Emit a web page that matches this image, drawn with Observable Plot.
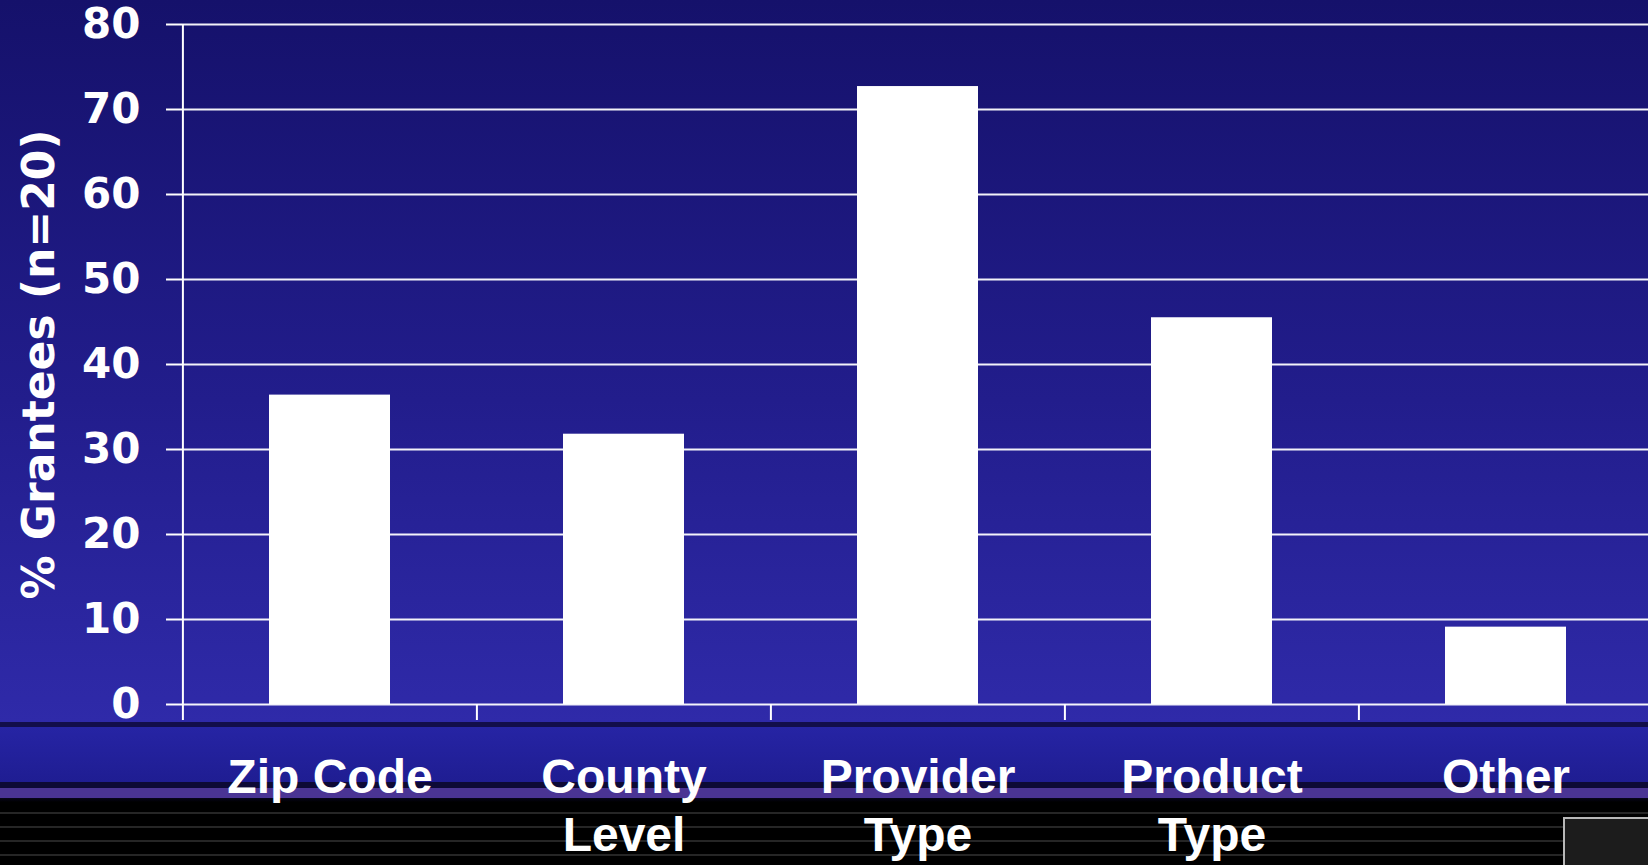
<!DOCTYPE html>
<html>
<head>
<meta charset="utf-8">
<script src="https://cdn.jsdelivr.net/npm/d3@7"></script>
<script src="https://cdn.jsdelivr.net/npm/@observablehq/plot@0.6"></script>
<style>
  html, body { margin: 0; padding: 0; background: #000; overflow: hidden; }
  #wrap {
    position: relative; width: 1648px; height: 865px; overflow: hidden;
    background: linear-gradient(to bottom,
      #15116b 0px, #221d8c 400px, #2f2aa9 722px,
      #120e4a 722px, #120e4a 727px,
      #2624a4 727px, #1f1d92 782px,
      #0d0a36 782px, #0d0a36 788px,
      #4a3494 788px, #4a3494 798px,
      #07051c 798px, #000 802px, #000 865px);
  }
  #scan {
    position: absolute; left: 0; top: 802px; width: 1648px; height: 63px;
    background: repeating-linear-gradient(to bottom, #000 0px, #000 10px, #262626 10px, #262626 12px, #000 12px, #000 14px);
  }
  #logoR {
    position: absolute; left: 1563px; top: 817px; width: 100px; height: 60px;
    border: 2px solid #b8b8b8; background: #1c1c1c;
  }
  #chart { position: absolute; left: 0; top: 0; }
</style>
</head>
<body>
<div id="wrap">
  <div id="scan"></div>
  <div id="logoR"></div>
  <div id="chart"></div>
</div>
<script>
// Data
const categories = ["Zip Code", "County Level", "Provider Type", "Product Type", "Other"];
const categoryLabels = ["Zip Code", "County\nLevel", "Provider\nType", "Product\nType", "Other"];
const values = [36.4, 31.8, 72.7, 45.5, 9.1];
const yTicks = [0, 10, 20, 30, 40, 50, 60, 70, 80];
const yLabel = "% Grantees (n=20)";

const data = categories.map((c, i) => ({category: c, value: values[i]}));
const labelOf = new Map(categories.map((c, i) => [c, categoryLabels[i]]));

const xRange = [182, 1653];
const step = (xRange[1] - xRange[0]) / categories.length;

const chart = Plot.plot({
  width: 1648,
  height: 865,
  marginTop: 24,
  marginBottom: 161,
  marginLeft: 182,
  marginRight: 0,
  style: {background: "transparent", color: "white", overflow: "visible"},
  x: {type: "band", domain: categories, range: xRange, paddingInner: 0.59, paddingOuter: 0.295},
  y: {domain: [0, 80]},
  marks: [
    Plot.gridY(yTicks, {stroke: "white", strokeOpacity: 0.95, strokeWidth: 2}),
    Plot.barY(data, {x: "category", y: "value", fill: "white"}),
    Plot.ruleX(categories.slice(0, 1), {x: d => d, dx: -step / 2, y1: 0, y2: 80, stroke: "white", strokeWidth: 2}),
    Plot.axisY({
      ticks: yTicks, tickSize: 16, tickPadding: 26, label: null,
      color: "white", strokeWidth: 2,
      fontSize: 42, fontWeight: "bold", fontFamily: "DejaVu Sans"
    }),
    Plot.axisX({
      tickSize: 16, tickFormat: () => "", label: null, dx: -step / 2,
      color: "white", strokeWidth: 2
    }),
    Plot.axisX({
      tickSize: 0, tickPadding: 48, label: null,
      tickFormat: d => labelOf.get(d),
      color: "white", fontSize: 48, fontWeight: "bold",
      fontFamily: "Liberation Sans", lineHeight: 1.2
    }),
    Plot.text([yLabel], {
      text: d => d, frameAnchor: "left", rotate: -90, dx: -143,
      fill: "white", fontSize: 44, fontWeight: "bold", fontFamily: "DejaVu Sans",
      textAnchor: "middle", lineAnchor: "middle"
    })
  ]
});
document.getElementById("chart").appendChild(chart);
</script>
</body>
</html>
